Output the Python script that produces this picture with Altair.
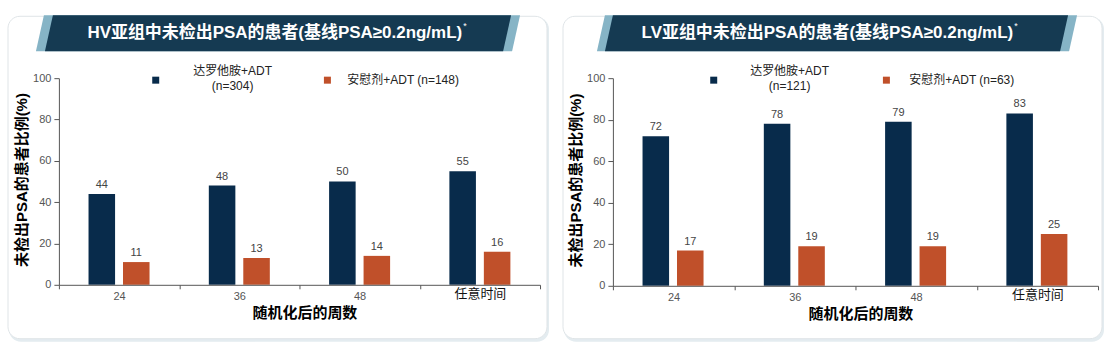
import altair as alt
import pandas as pd

# ---- data -------------------------------------------------------------
weeks = ["24", "36", "48", "任意时间"]
series = ["达罗他胺+ADT", "安慰剂+ADT"]

hv_darolutamide = [44, 48, 50, 55]
hv_placebo = [11, 13, 14, 16]
hv_n = [304, 148]

lv_darolutamide = [72, 78, 79, 83]
lv_placebo = [17, 19, 19, 25]
lv_n = [121, 63]

titles = [
    "HV亚组中未检出PSA的患者(基线PSA≥0.2ng/mL)",
    "LV亚组中未检出PSA的患者(基线PSA≥0.2ng/mL)",
]
y_title = "未检出PSA的患者比例(%)"
x_title = "随机化后的周数"

# ---- styling ----------------------------------------------------------
NAVY = "#082b4b"
ORANGE = "#c0502a"
BANNER = "#153a52"
ACCENT = "#86b4c6"
FONT = "Liberation Sans, Noto Sans CJK SC, sans-serif"
GREY = "#555555"

one = pd.DataFrame({"k": [0]})


def para_path(w, h, s):
    """Parallelogram leaning right, in the [-1, 1] symbol box scaled by width."""
    k = 2.0 / w
    hy = h / w
    sx = s * k
    return f"M {-1 + sx:.5f} {-hy:.5f} L 1 {-hy:.5f} L {1 - sx:.5f} {hy:.5f} L -1 {hy:.5f} Z"


def banner(cx, cy, w, h, s, color):
    return alt.Chart(one).mark_point(
        shape=para_path(w, h, s), filled=True, size=w * w, color=color,
        opacity=1, strokeWidth=0,
    ).encode(x=alt.value(cx), y=alt.value(cy))


def panel(title, daro, pbo, n, W, H, card_x, outer, inner, title_end, leg, background=False):
    df = pd.DataFrame({
        "week": weeks * 2,
        "group": [series[0]] * len(weeks) + [series[1]] * len(weeks),
        "value": daro + pbo,
    })
    is_last = f"datum.value == '{weeks[-1]}'"
    x_enc = alt.X(
        "week:N", sort=weeks,
        scale=alt.Scale(paddingInner=0, paddingOuter=0),
        axis=alt.Axis(
            title=x_title, labelAngle=0, tickBand="extent", tickSize=4, zindex=2,
            domainColor=GREY, tickColor=GREY,
            labelColor={"condition": {"test": is_last, "value": "#111111"}, "value": GREY},
            labelFontSize={"condition": {"test": is_last, "value": 13}, "value": 11},
            labelPadding={"condition": {"test": is_last, "value": -1}, "value": 2},
            labelFont=FONT,
            titleFont=FONT, titleFontSize=15, titleFontWeight="bold", titleColor="#000000",
            titleX=W / 2 + 5, titleY=21, titleBaseline="top", titleAnchor="middle",
        ),
    )
    xo_enc = alt.XOffset("group:N", sort=series,
                         scale=alt.Scale(paddingInner=0.23, paddingOuter=0.86))
    y_enc = alt.Y(
        "value:Q", scale=alt.Scale(domain=[0, 100]),
        axis=alt.Axis(
            values=[0, 20, 40, 60, 80, 100], grid=False, tickSize=5, labelPadding=3, zindex=2,
            domainColor=GREY, tickColor=GREY, labelColor=GREY, labelFontSize=11, labelFont=FONT,
            title=y_title, titleFont=FONT, titleFontSize=15, titleFontWeight="bold",
            titleColor="#000000", titleX=-29, titleY=H / 2 - 2, titleAngle=-90,
            titleBaseline="bottom", titleAlign="center",
        ),
    )
    base = alt.Chart(df)
    bars = base.mark_bar().encode(
        x=x_enc, xOffset=xo_enc, y=y_enc,
        color=alt.Color("group:N", sort=series,
                        scale=alt.Scale(domain=series, range=[NAVY, ORANGE]), legend=None),
    )
    values = base.mark_text(dy=-4, baseline="bottom", fontSize=11, color="#444444", font=FONT).encode(
        x=alt.X("week:N", sort=weeks), xOffset=alt.XOffset("group:N", sort=series),
        y="value:Q", text="value:Q",
    )

    layers = []
    if background:
        layers.append(alt.Chart(one).mark_rect(fill="#ffffff", strokeWidth=0).encode(
            x=alt.value(-58), x2=alt.value(1111 - 58), y=alt.value(-77), y2=alt.value(345 - 77)))
    cx0, cx1 = card_x
    # card shadow and card
    layers.append(alt.Chart(one).mark_rect(fill="#e4ecf0", cornerRadius=12, strokeWidth=0).encode(
        x=alt.value(cx0 + 1), x2=alt.value(cx1 + 2), y=alt.value(-61), y2=alt.value(264)))
    layers.append(alt.Chart(one).mark_rect(fill="#ffffff", stroke="#dfe4e7", strokeWidth=1,
                                           cornerRadius=12).encode(
        x=alt.value(cx0), x2=alt.value(cx1), y=alt.value(-62), y2=alt.value(261)))
    # title banner
    layers.append(banner(outer[0], -45, outer[1], 36, 8, ACCENT))
    layers.append(banner(inner[0], -45, inner[1], 36, 8, BANNER))
    layers.append(alt.Chart(one).mark_text(
        text=title, align="right", baseline="middle", font=FONT, fontSize=17,
        fontWeight="bold", color="#ffffff").encode(x=alt.value(title_end), y=alt.value(-45)))
    layers.append(alt.Chart(one).mark_text(
        text="*", align="left", baseline="middle", font=FONT, fontSize=9,
        color="#ffffff").encode(x=alt.value(title_end + 1), y=alt.value(-52)))

    # legend
    sq0, txt0, sq1, txt1 = leg
    leg_df = pd.DataFrame({"name": series, "n": n})
    leg_df["label"] = [f"{series[0]}\n(n={n[0]})", f"{series[1]} (n={n[1]})"]
    layers.append(alt.Chart(leg_df.iloc[[0]]).mark_square(size=49, filled=True, color=NAVY, opacity=1)
                  .encode(x=alt.value(sq0), y=alt.value(2)))
    layers.append(alt.Chart(leg_df.iloc[[0]]).mark_text(
        align="center", baseline="top", lineBreak="\n", lineHeight=15, fontSize=12,
        font=FONT, color="#222222").encode(x=alt.value(txt0), y=alt.value(-12), text="label:N"))
    layers.append(alt.Chart(leg_df.iloc[[1]]).mark_square(size=49, filled=True, color=ORANGE, opacity=1)
                  .encode(x=alt.value(sq1), y=alt.value(2)))
    layers.append(alt.Chart(leg_df.iloc[[1]]).mark_text(
        align="left", baseline="middle", fontSize=12, font=FONT, color="#222222")
        .encode(x=alt.value(txt1), y=alt.value(2), text="label:N"))

    layers += [bars, values]
    return alt.layer(*layers).properties(width=W, height=H)


left = panel(titles[0], hv_darolutamide, hv_placebo, hv_n, 482, 207,
             card_x=(-51, 489), outer=(219.5, 485), inner=(219.5, 467),
             title_end=404, leg=(97, 174, 269, 289), background=True)
right = panel(titles[1], lv_darolutamide, lv_placebo, lv_n, 486, 208,
              card_x=(-50, 490), outer=(224.5, 481), inner=(224, 464),
              title_end=401, leg=(101, 177, 274, 297))

chart = alt.hconcat(left, right, spacing=73, bounds="flush").properties(
    padding=0
).configure_view(strokeWidth=0).configure(font=FONT)

chart.save("out.html", embed_options={"renderer": "svg", "actions": False})
